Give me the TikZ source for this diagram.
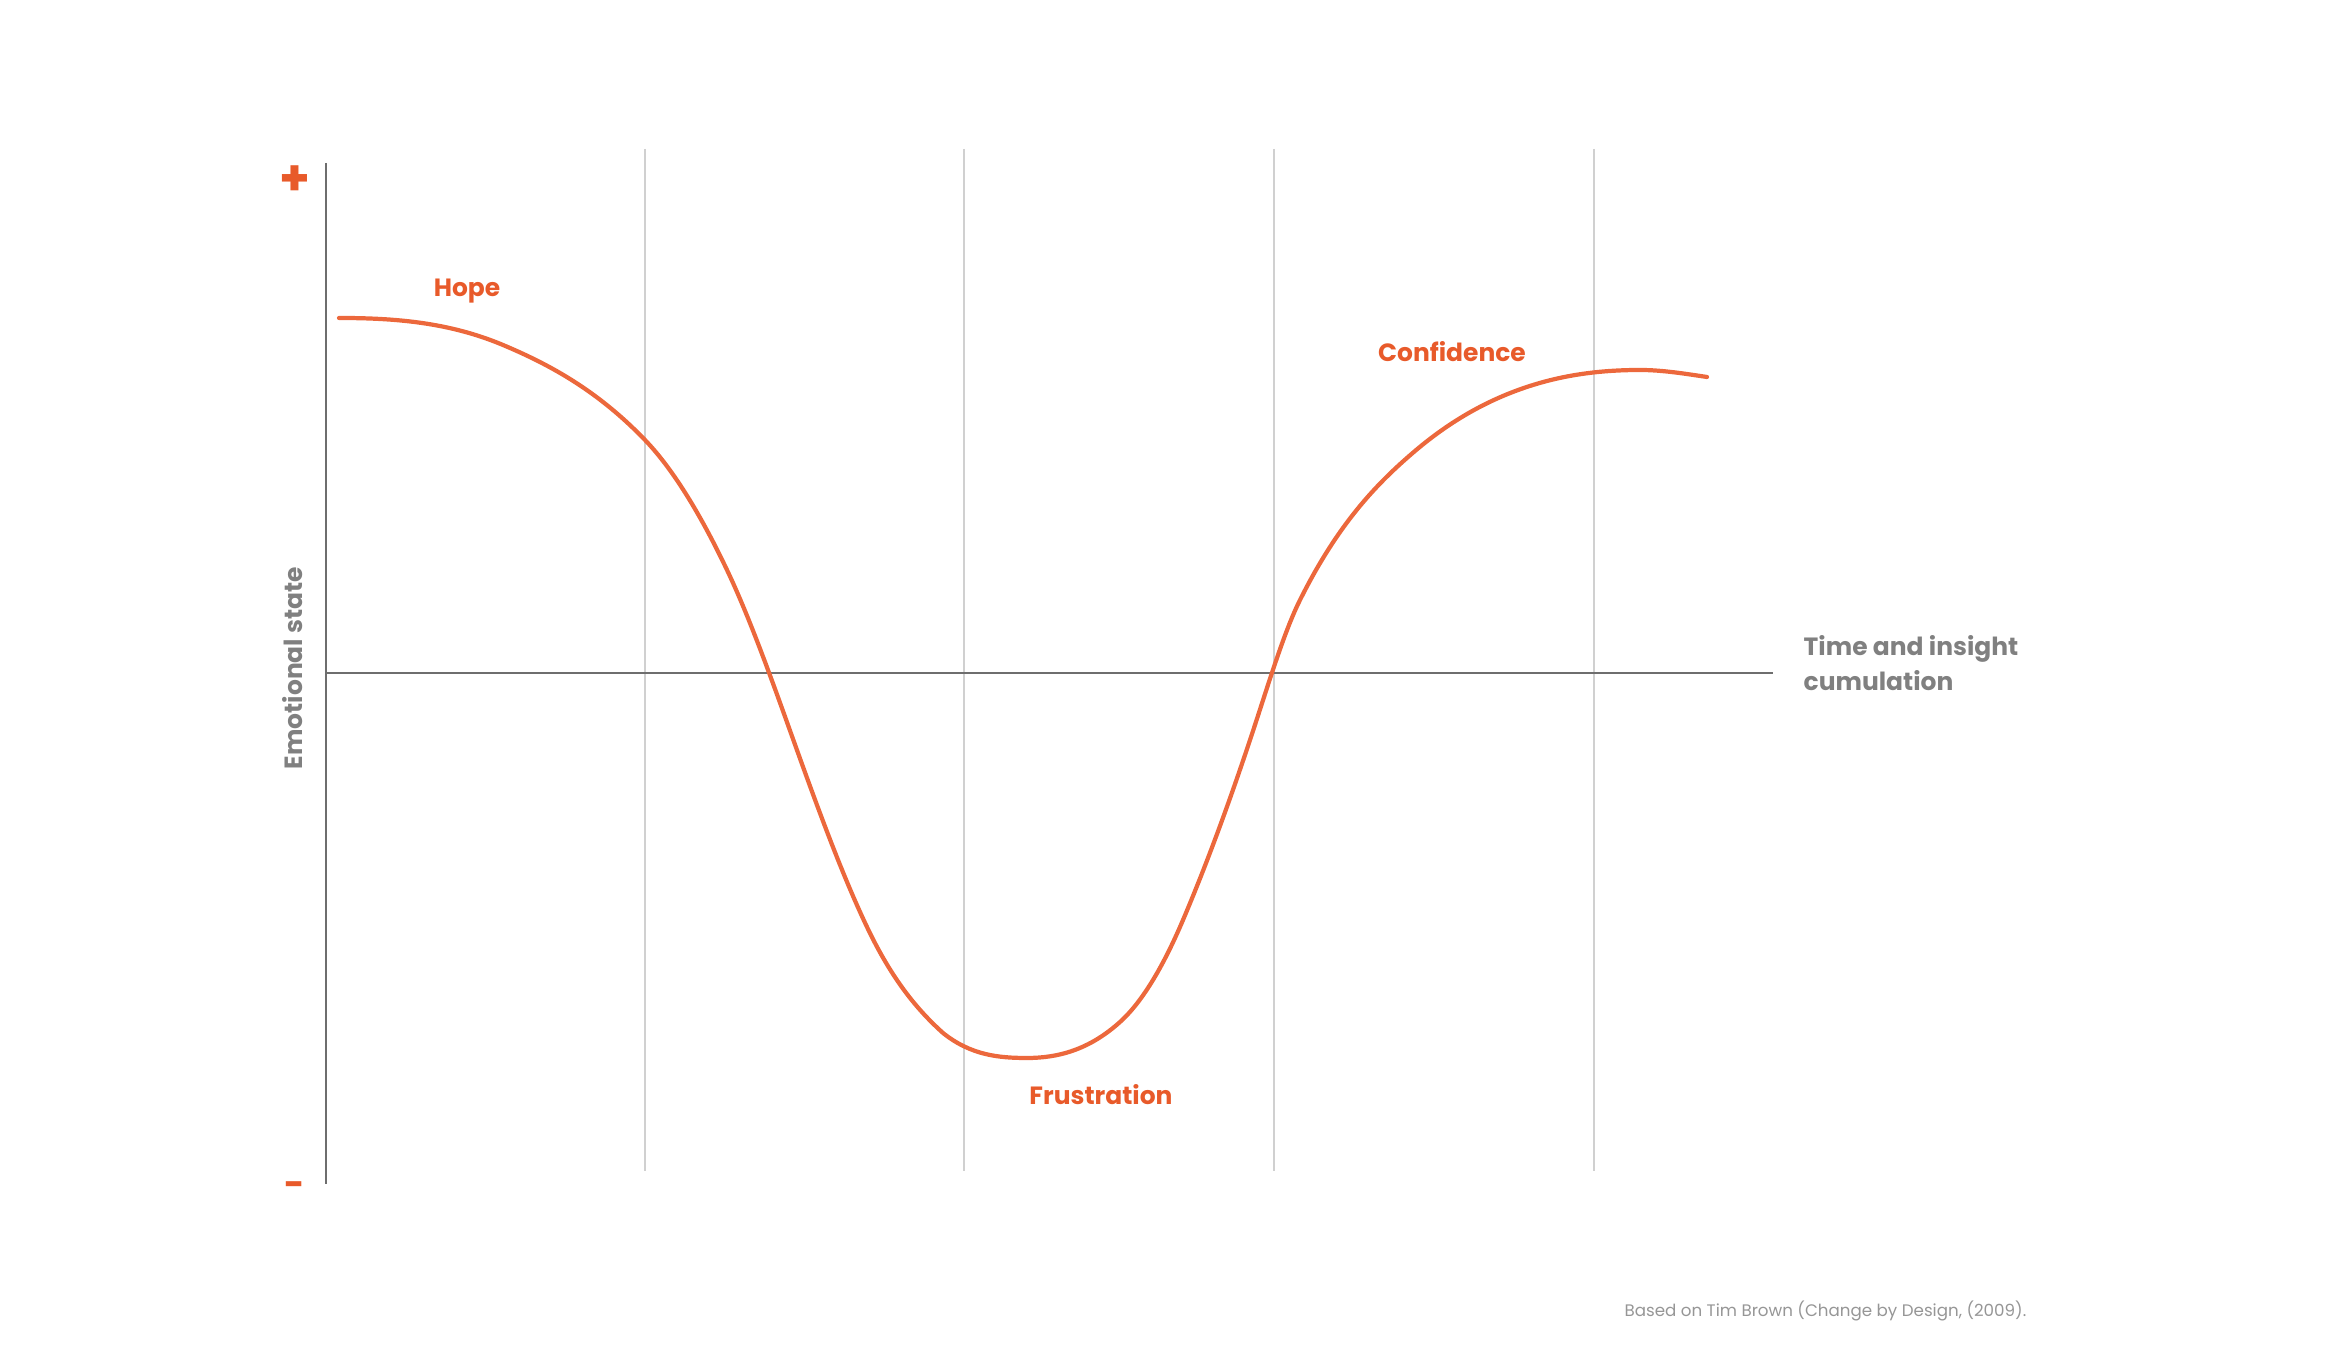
\documentclass[tikz,border=0pt]{standalone}
\usepackage{fontspec}
\setmainfont{Poppins}
\usetikzlibrary{positioning}
\definecolor{accent}{RGB}{232,90,42}
\definecolor{curvecol}{RGB}{236,104,60}
\definecolor{axiscol}{RGB}{110,110,110}
\definecolor{gridcol}{RGB}{208,208,208}
\definecolor{labelgray}{RGB}{128,128,128}
\definecolor{notegray}{RGB}{150,150,150}
\tikzset{
    % vertical guide lines
    grid/.style={draw=gridcol, line width=0.5pt},
    % the two axes
    axis/.style={draw=axiscol, line width=0.7pt},
    % emotion curve
    curve/.style={draw=curvecol, line width=1.2pt, line cap=round},
    % orange phase labels
    phase/.style={text=accent, font=\fontsize{7.1}{9.9}\selectfont\bfseries, inner sep=0pt},
    % gray axis titles
    axlabel/.style={text=labelgray, font=\fontsize{7.1}{9.9}\selectfont\bfseries, inner sep=0pt},
    % plus / minus marks
    sign/.style={text=accent, font=\fontsize{14}{14}\selectfont\bfseries, inner sep=0pt},
}

\begin{document}
\begin{tikzpicture}[x=1cm, y=1cm]
    \useasboundingbox (0,0) rectangle (23.4,-13.58);

    % ---- guide lines ----
    \foreach \gx in {6.45, 9.64, 12.74, 15.94}{
        \draw[grid] (\gx,-1.49) -- (\gx,-11.71);
    }

    % ---- axes ----
    \coordinate (ytop)   at (3.26,-1.63);
    \coordinate (ybot)   at (3.26,-11.84);
    \coordinate (xleft)  at (3.26,-6.73);
    \coordinate (xright) at (17.73,-6.73);
    \draw[axis] (ytop) -- (ybot);
    \draw[axis] (xleft) -- (xright);

    \node[sign] (plus)  at (2.95,-1.81)  {+};
    \node[sign, font=\fontsize{10}{10}\selectfont\bfseries] (minus) at (2.95,-11.89) {-};

    \node[axlabel, rotate=90] (ylab) at (2.93,-6.68) {Emotional state};
    \node[axlabel, anchor=north west, align=left] (xlab) at (18.03,-6.35)
        {Time and insight\\cumulation};

    % ---- curve: hope -> frustration -> confidence ----
    \draw[curve] (3.39,-3.18)
        .. controls (3.937,-3.18) and (4.483,-3.22) .. (5.03,-3.45)
        .. controls (5.503,-3.649) and (5.977,-3.908) .. (6.45,-4.40)
        .. controls (6.723,-4.684) and (6.997,-5.126) .. (7.27,-5.70)
        .. controls (7.49,-6.162) and (7.71,-6.774) .. (7.93,-7.39)
        .. controls (8.177,-8.081) and (8.423,-8.752) .. (8.67,-9.27)
        .. controls (8.923,-9.802) and (9.177,-10.102) .. (9.43,-10.33)
        .. controls (9.71,-10.554) and (9.99,-10.58) .. (10.27,-10.58)
        .. controls (10.58,-10.58) and (10.89,-10.499) .. (11.20,-10.22)
        .. controls (11.41,-10.031) and (11.62,-9.694) .. (11.83,-9.20)
        .. controls (12.053,-8.675) and (12.277,-8.07) .. (12.50,-7.40)
        .. controls (12.667,-6.90) and (12.833,-6.333) .. (13.00,-6.00)
        .. controls (13.383,-5.233) and (13.767,-4.836) .. (14.15,-4.51)
        .. controls (14.543,-4.176) and (14.937,-3.972) .. (15.33,-3.85)
        .. controls (15.687,-3.739) and (16.043,-3.70) .. (16.40,-3.70)
        .. controls (16.623,-3.70) and (16.847,-3.737) .. (17.07,-3.77);

    % ---- phase labels ----
    \node[phase, anchor=base] (hope)  at (4.67,-2.97)  {Hope};
    \node[phase, anchor=base] (conf)  at (14.52,-3.62) {Confidence};
    \node[phase, anchor=base] (frust) at (11.01,-11.05) {Frustration};

    % ---- source ----
    \node[text=notegray, font=\fontsize{4.75}{6}\selectfont, inner sep=0pt,
        anchor=base east] (src) at (20.27,-13.17)
        {Based on Tim Brown (Change by Design, (2009).};
\end{tikzpicture}
\end{document}
